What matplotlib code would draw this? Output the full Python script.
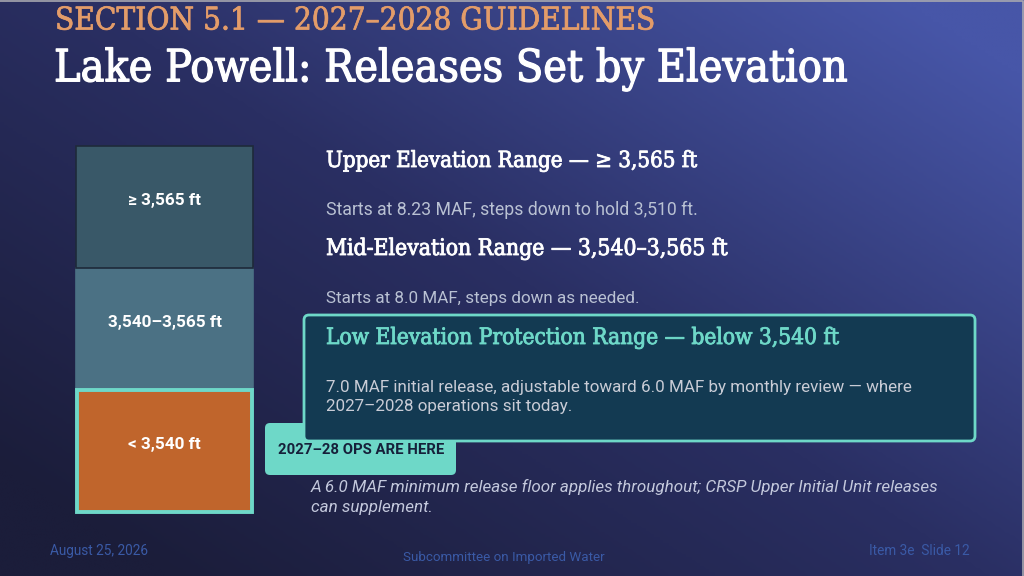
import numpy as np
import matplotlib
matplotlib.use("Agg")
import matplotlib.pyplot as plt
import matplotlib.patheffects as pe
from matplotlib.patches import FancyBboxPatch
from matplotlib.colors import LinearSegmentedColormap

# ---- data ----
bands = ["< 3,540 ft", "3,540–3,565 ft", "≥ 3,565 ft"]
band_heights = [1, 1, 1]
band_colors = ["#c0652c", "#4b7184", "#395868"]
band_edges = ["#6ed8c8", "#4b7184", "#1e2a3a"]

kicker = "SECTION 5.1 — 2027–2028 GUIDELINES"
title = "Lake Powell: Releases Set by Elevation"
headings = ["Upper Elevation Range — ≥ 3,565 ft",
            "Mid-Elevation Range — 3,540–3,565 ft",
            "Low Elevation Protection Range — below 3,540 ft"]
bodies = ["Starts at 8.23 MAF, steps down to hold 3,510 ft.",
          "Starts at 8.0 MAF, steps down as needed.",
          "7.0 MAF initial release, adjustable toward 6.0 MAF by monthly review — where\n2027–2028 operations sit today."]
tag = "2027–28 OPS ARE HERE"
note = "A 6.0 MAF minimum release floor applies throughout; CRSP Upper Initial Unit releases\ncan supplement."
footer_left = "August 25, 2026"
footer_mid = "Subcommittee on Imported Water"
footer_right = "Item 3e  Slide 12"

W, H = 1024, 576
fig = plt.figure(figsize=(10.24, 5.76), dpi=100)
ax = fig.add_axes([0, 0, 1, 1])
ax.set_xlim(0, W)
ax.set_ylim(H, 0)
ax.axis("off")

# background diagonal gradient
yy, xx = np.mgrid[0:1:200j, 0:1:356j]
t = np.clip(0.62 * xx + 0.55 * (1 - yy) - 0.1, 0, 1)
cmap = LinearSegmentedColormap.from_list("bg", ["#1b1d3a", "#2a2f63", "#4756a8"])
ax.imshow(t, cmap=cmap, extent=[0, W, H, 0], aspect="auto", zorder=0, interpolation="bilinear")
ax.plot([0, W - 1, W - 1], [0.5, 0.5, H], color="#a8a8b0", lw=1.2, zorder=1)

fig.canvas.draw()
renderer = fig.canvas.get_renderer()


def fit_text(x, y, s, width, size0, stroke=0, **kw):
    txt = ax.text(x, y, s, fontsize=size0, **kw)
    bb = txt.get_window_extent(renderer=renderer)
    txt.set_fontsize(size0 * width / bb.width)
    if stroke:
        txt.set_path_effects([pe.withStroke(linewidth=stroke, foreground=kw.get("color", "white"))])
    return txt

serif = dict(family="DejaVu Serif", fontstretch="condensed")
sans = ["Roboto", "DejaVu Sans"]

fit_text(55, 21, kicker, 600, 24, stroke=0.5, **serif, color="#e39c69", va="center", zorder=5)
fit_text(54, 69, title, 794, 34, stroke=0.9, **serif, color="white", va="center", zorder=5)

# stacked elevation bar
bax = fig.add_axes([76 / W, 1 - 512 / H, (253 - 76) / W, (512 - 146) / H])
bax.set_xlim(-0.5, 0.5)
bax.set_ylim(0, sum(band_heights))
bax.axis("off")
bottoms = np.concatenate([[0], np.cumsum(band_heights)[:-1]])
order = [1, 2, 0]
for i in order:
    lw = 2.8 if i == 0 else 1.2
    bax.bar(0, band_heights[i], bottom=bottoms[i], width=1.0 if i else 0.99,
            color=band_colors[i], edgecolor=band_edges[i], linewidth=lw, zorder=3 if i == 0 else 2,
            clip_on=False)
    bax.text(0, bottoms[i] + band_heights[i] / 2 + 0.05, bands[i], ha="center", va="center",
             color="white", fontsize=12.3, fontweight="bold", family=sans, zorder=4)

# headings & bodies
fit_text(326, 161, headings[0], 371, 17, stroke=0.6, **serif, color="white", va="center", zorder=5)
fit_text(326, 210, bodies[0], 372, 10.5, family=sans, color="#b9c1d3", va="center", zorder=5)
fit_text(326, 249, headings[1], 401, 17, stroke=0.6, **serif, color="white", va="center", zorder=5)
fit_text(326, 298, bodies[1], 314, 10.5, family=sans, color="#b9c1d3", va="center", zorder=5)

# tag (behind box)
ax.add_patch(FancyBboxPatch((265, 423), 191, 52, boxstyle="round,pad=0,rounding_size=5",
                            facecolor="#6ed8c8", edgecolor="none", zorder=6))
fit_text(278, 450, tag, 165, 10, family=sans, color="#16203a", fontweight="bold", va="center", zorder=7)

# highlight box
ax.add_patch(FancyBboxPatch((304, 315), 671, 126, boxstyle="round,pad=0,rounding_size=5",
                            facecolor="#133a52", edgecolor="#6ed8c8", linewidth=2, zorder=8))
fit_text(326, 338, headings[2], 512, 17, stroke=0.6, **serif, color="#6ed8c8", va="center", zorder=9)
b3 = ax.text(326, 397, bodies[2], fontsize=10.5, family=sans, color="#c9ccd6", va="center",
             linespacing=1.35, zorder=9)
bb = b3.get_window_extent(renderer=renderer)
b3.set_fontsize(10.5 * 589 / bb.width)

n = ax.text(311, 497, note, fontsize=10.5, family=sans, style="italic", color="#c3c8dc",
            va="center", linespacing=1.35, zorder=5)
bb = n.get_window_extent(renderer=renderer)
n.set_fontsize(10.5 * 634 / bb.width)

# footer
fit_text(50, 551, footer_left, 97, 8.5, family=sans, color="#3a5aa6", va="center", zorder=5)
fm = ax.text(504, 558, footer_mid, fontsize=8.5, family=sans, color="#3a5aa6", ha="center", va="center", zorder=5)
bb = fm.get_window_extent(renderer=renderer)
fm.set_fontsize(8.5 * 198 / bb.width)
fr = ax.text(970, 551, footer_right, fontsize=8.5, family=sans, color="#3a5aa6", ha="right", va="center", zorder=5)
bb = fr.get_window_extent(renderer=renderer)
fr.set_fontsize(8.5 * 100 / bb.width)

fig.savefig("out.png", dpi=100)
